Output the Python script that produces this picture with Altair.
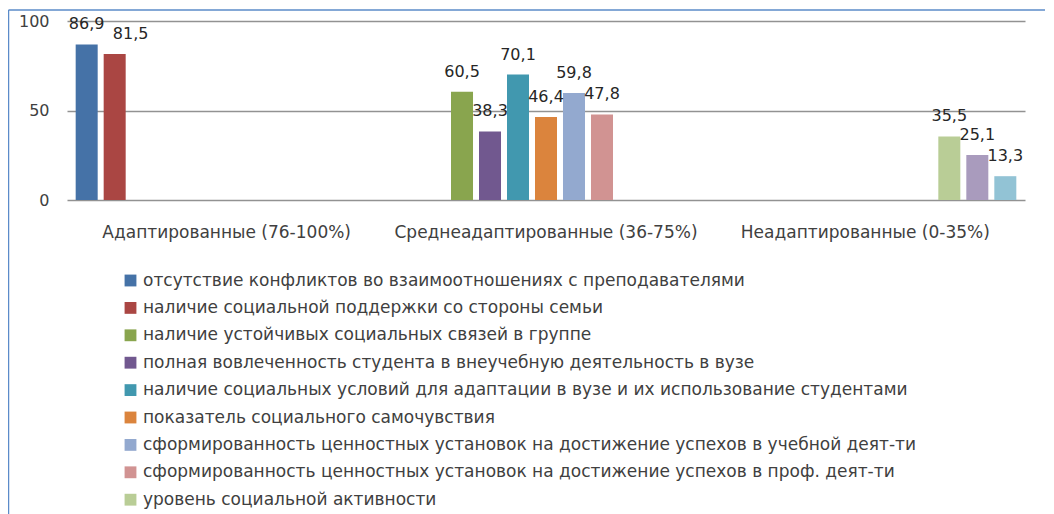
import altair as alt
import pandas as pd

categories = ["Адаптированные (76-100%)", "Среднеадаптированные (36-75%)", "Неадаптированные (0-35%)"]

series_names = [
    "отсутствие конфликтов во взаимоотношениях с преподавателями",
    "наличие социальной поддержки со стороны семьи",
    "наличие устойчивых социальных связей в группе",
    "полная вовлеченность студента в внеучебную деятельность в вузе",
    "наличие социальных условий для адаптации в вузе и их использование студентами",
    "показатель социального самочувствия",
    "сформированность ценностных установок на достижение успехов в учебной деят-ти",
    "сформированность ценностных установок на достижение успехов в проф. деят-ти",
    "уровень социальной активности",
    "Ряд10",
    "Ряд11",
]
series_category = [0, 0, 1, 1, 1, 1, 1, 1, 2, 2, 2]
values = [86.9, 81.5, 60.5, 38.3, 70.1, 46.4, 59.8, 47.8, 35.5, 25.1, 13.3]
colors = ["#4572A7", "#AA4643", "#89A54E", "#71588F", "#4198AF", "#DB843D",
          "#93A9CF", "#D19392", "#B9CD96", "#A99BBD", "#92C3D5"]

df = pd.DataFrame({
    "category": [categories[i] for i in series_category],
    "series": series_names,
    "value": values,
})

FONT = "DejaVu Sans"
W, H = 958, 179

x_enc = alt.X("category:N", sort=categories,
              scale=alt.Scale(domain=categories, paddingInner=0, paddingOuter=0),
              axis=alt.Axis(title=None, labelAngle=0, domain=False, ticks=False,
                            labelPadding=24, labelFontSize=17, labelFont=FONT,
                            labelColor="#404040", labelLimit=400))
xo_enc = alt.XOffset("series:N", sort=series_names,
                     scale=alt.Scale(domain=series_names, paddingInner=0.214, paddingOuter=0.31))
y_enc = alt.Y("value:Q", scale=alt.Scale(domain=[0, 100]),
              axis=alt.Axis(title=None, values=[0, 50, 100], domain=False, ticks=False,
                            labelPadding=18, labelFontSize=16, labelFont=FONT,
                            labelColor="#404040", gridColor="#929292", gridWidth=1.4))

bars = alt.Chart(df).mark_bar().encode(
    x=x_enc,
    xOffset=xo_enc,
    y=y_enc,
    color=alt.Color("series:N", sort=series_names,
                    scale=alt.Scale(domain=series_names, range=colors),
                    legend=alt.Legend(title=None, orient="none", legendX=55, legendY=251,
                                      values=series_names[:9], symbolType="square",
                                      symbolSize=140, symbolStrokeWidth=0,
                                      labelFont=FONT, labelFontSize=17, labelColor="#404040",
                                      labelLimit=900, rowPadding=9.4, labelOffset=4)),
)

label_base = alt.Chart(df).transform_calculate(
    lab="replace(format(datum.value, '.1f'), '.', ',')"
)
label_enc = dict(
    x=alt.X("category:N", sort=categories),
    xOffset=alt.XOffset("series:N", sort=series_names),
    y="value:Q",
    text="lab:N",
)
labels = label_base.transform_filter(
    alt.datum.series != series_names[1]
).mark_text(baseline="bottom", dy=-12, fontSize=16, font=FONT, color="#262626").encode(**label_enc)
labels_shifted = label_base.transform_filter(
    alt.datum.series == series_names[1]
).mark_text(baseline="bottom", dy=-12, dx=16, fontSize=16, font=FONT, color="#262626").encode(**label_enc)

frame_data = pd.DataFrame({"k": [0]})
frame_left = alt.Chart(frame_data).mark_rule(color="#5B8BC9", strokeWidth=1.5).encode(
    x=alt.value(-58.5), y=alt.value(-11), y2=alt.value(520))
frame_top = alt.Chart(frame_data).mark_rule(color="#5B8BC9", strokeWidth=1.5).encode(
    x=alt.value(-58.5), x2=alt.value(1000), y=alt.value(-11))

chart = alt.layer(bars, labels, labels_shifted, frame_left, frame_top).properties(
    width=W, height=H,
    autosize=alt.AutoSizeParams(type="none"),
    padding={"left": 59, "top": 13, "right": 20, "bottom": 314},
).configure_view(stroke=None)

chart.save("out.html", embed_options={"renderer": "svg", "actions": False})
